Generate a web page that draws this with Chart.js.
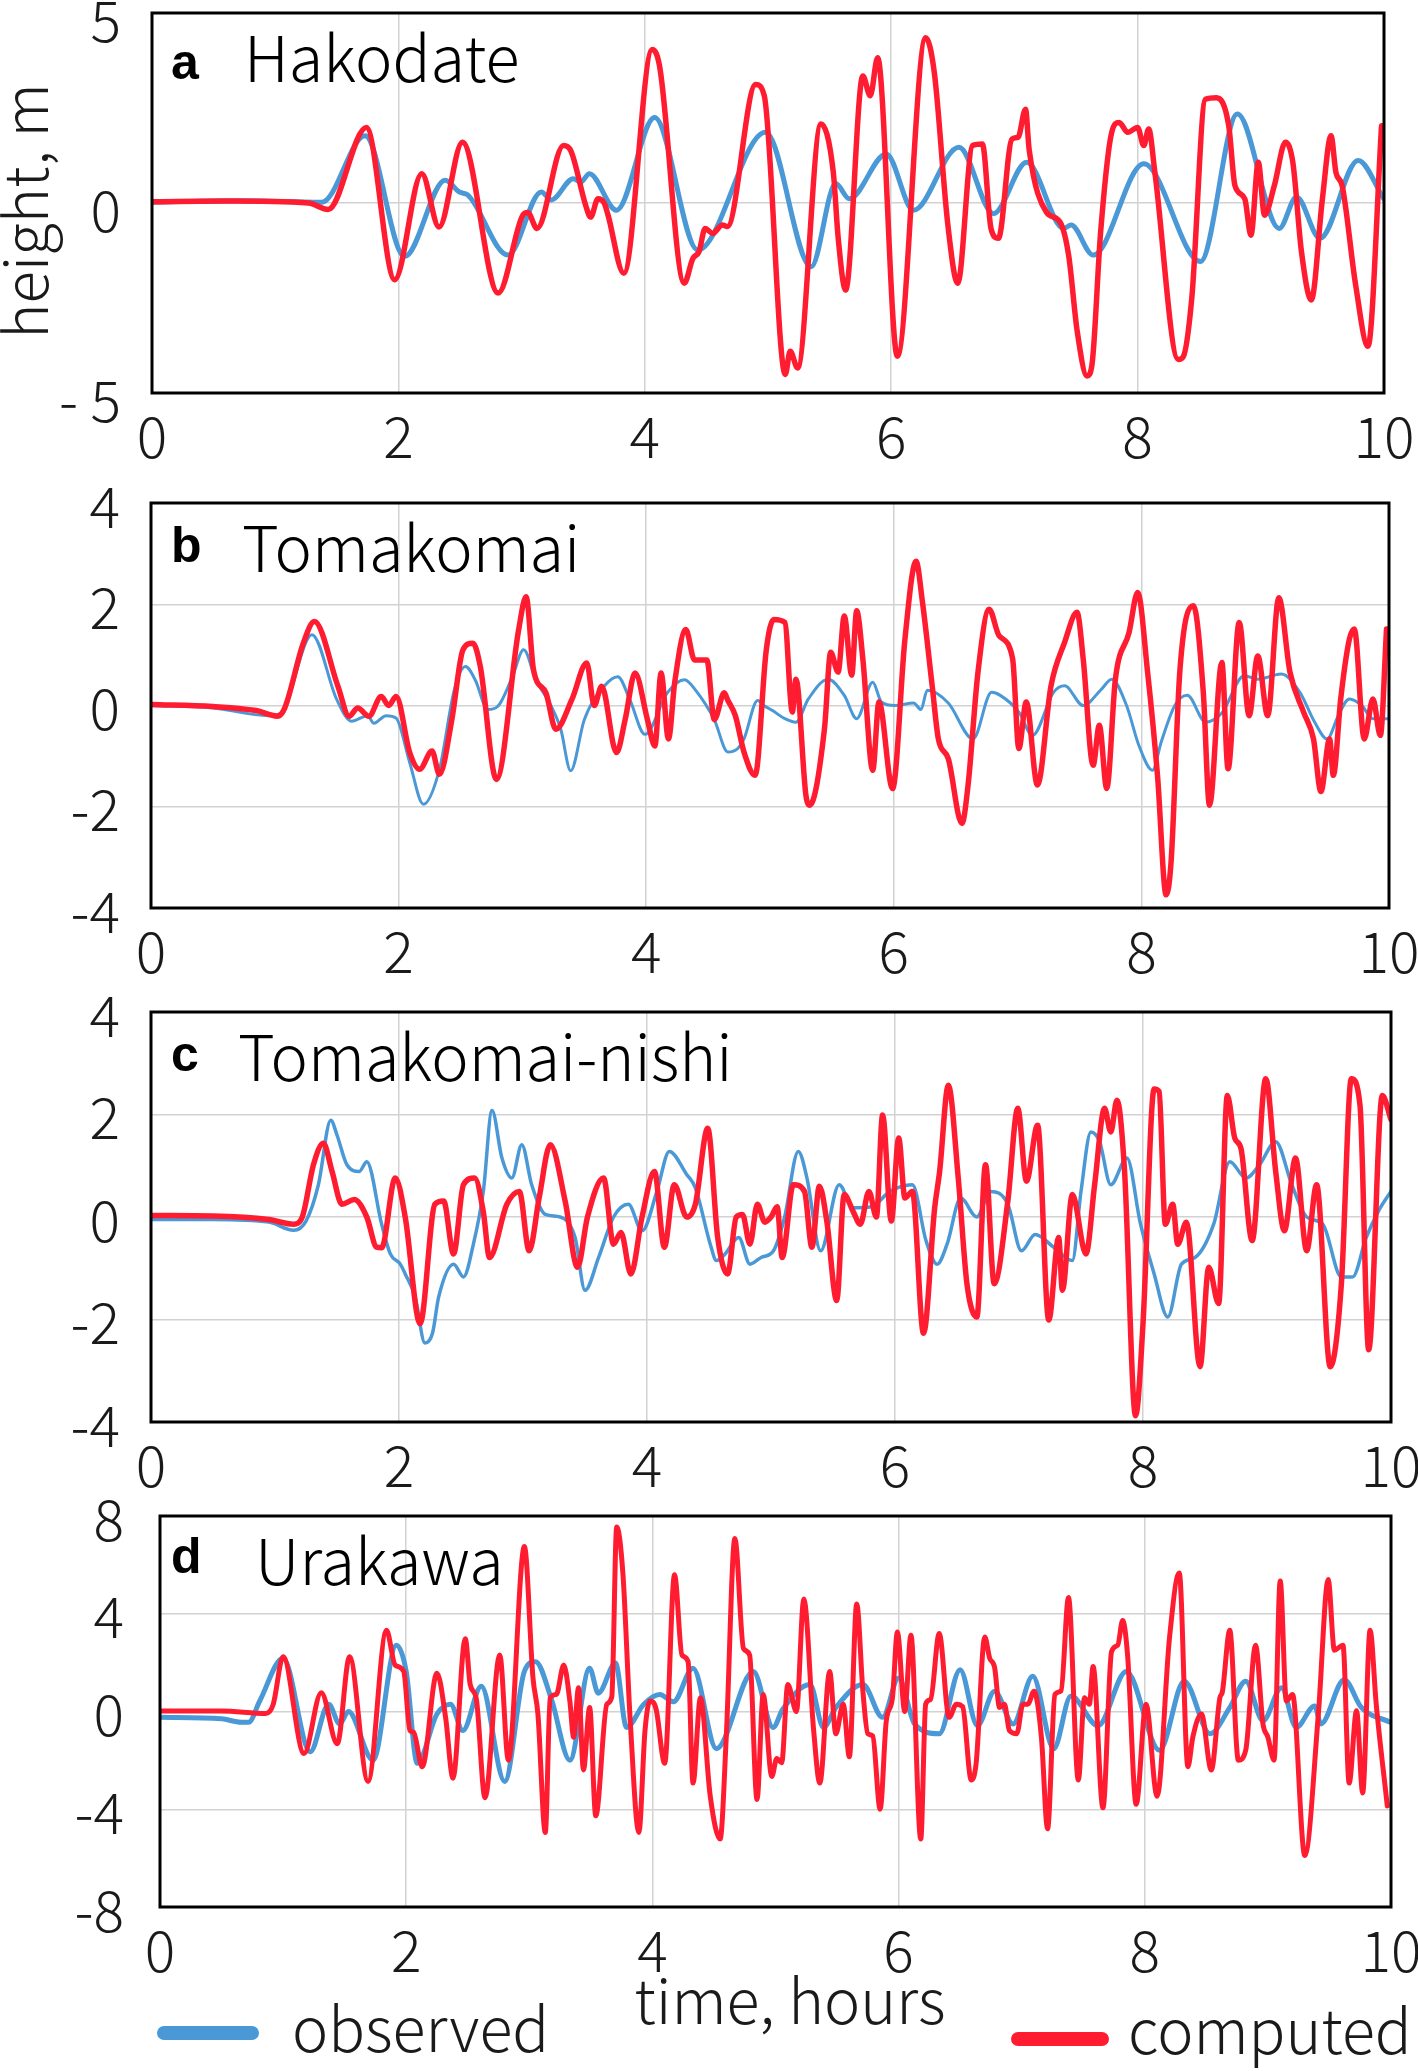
<!DOCTYPE html>
<html>
<head>
<meta charset="utf-8">
<script src="https://cdn.jsdelivr.net/npm/chart.js@4.4.0/dist/chart.umd.min.js"></script>
<style>
  body { margin: 0; background: #fff; width: 1418px; height: 2071px; position: relative; overflow: hidden; }
  canvas { position: absolute; left: 0; }
</style>
</head>
<body>
<canvas id="hakodate"></canvas>
<canvas id="tomakomai"></canvas>
<canvas id="nishi"></canvas>
<canvas id="urakawa"></canvas>
<script>
// time in hours, height in m — [t, h] pairs
const hakodateObs = [[0,0.02],[0.7,0.06],[1.38,0.02],[1.73,1.77],[2.05,-1.41],[2.38,0.6],[2.5,0.28],[2.56,0.22],[2.89,-1.37],[3.16,0.29],[3.24,0.08],[3.42,0.64],[3.48,0.55],[3.55,0.77],[3.77,-0.19],[4.08,2.25],[4.43,-1.24],[4.98,1.86],[5.35,-1.68],[5.55,0.51],[5.66,0.11],[5.96,1.29],[6.18,-0.19],[6.55,1.47],[6.83,-0.28],[7.1,1.07],[7.4,-0.67],[7.46,-0.58],[7.64,-1.37],[8.05,1.03],[8.51,-1.54],[8.81,2.34],[9.15,-0.67],[9.29,0.16],[9.48,-0.93],[9.79,1.12],[10,0.1]];
const hakodateCom = [[0,0.03],[0.6,0.05],[1.27,0],[1.43,-0.17],[1.74,1.99],[1.97,-2.02],[2.19,0.77],[2.33,-0.63],[2.52,1.6],[2.81,-2.37],[3.01,-0.32],[3.05,-0.25],[3.125,-0.67],[3.34,1.51],[3.4,1.37],[3.52,-0.06],[3.56,-0.37],[3.62,0.11],[3.67,0],[3.7,-0.3],[3.83,-1.85],[4.06,4.04],[4.12,3.6],[4.32,-2.11],[4.39,-1.46],[4.44,-1.28],[4.49,-0.67],[4.55,-0.8],[4.63,-0.58],[4.67,-0.62],[4.9,3.12],[4.97,2.82],[5.14,-4.51],[5.18,-3.9],[5.24,-4.34],[5.43,2.08],[5.53,0.81],[5.57,-0.93],[5.63,-2.29],[5.77,3.34],[5.83,2.82],[5.89,3.82],[6.05,-4.03],[6.28,4.35],[6.35,3.43],[6.46,-0.58],[6.54,-2.11],[6.66,1.51],[6.74,1.55],[6.81,-0.67],[6.87,-0.93],[6.98,1.68],[7.03,1.73],[7.09,2.47],[7.12,1.4],[7.26,-0.24],[7.37,-0.5],[7.44,-1.37],[7.51,-3.38],[7.59,-4.55],[7.63,-4.25],[7.7,-0.76],[7.79,1.86],[7.85,2.12],[7.92,1.86],[8,1.99],[8.05,1.51],[8.09,1.95],[8.14,0.81],[8.33,-4.12],[8.37,-4.05],[8.44,-2.5],[8.55,2.73],[8.64,2.77],[8.74,2.03],[8.79,0.46],[8.87,0.11],[8.92,-0.85],[8.98,1.07],[9.03,-0.32],[9.11,0.46],[9.2,1.6],[9.26,1.07],[9.33,-1.28],[9.41,-2.55],[9.5,0.11],[9.57,1.77],[9.61,0.8],[9.66,0.46],[9.77,-2.16],[9.87,-3.77],[9.98,2.03]];

const tomakomaiObs = [[0,0],[0.5,-0.05],[0.95,-0.2],[1.05,-0.15],[1.3,1.4],[1.5,0.12],[1.62,-0.31],[1.75,-0.2],[1.8,-0.35],[1.9,-0.2],[1.98,-0.25],[2.09,-1.13],[2.2,-1.95],[2.33,-1.26],[2.45,0.31],[2.54,0.77],[2.62,0.5],[2.72,-0.08],[2.8,-0.02],[2.92,0.57],[3.01,1.1],[3.11,0.5],[3.23,0],[3.31,-0.47],[3.39,-1.29],[3.5,-0.28],[3.66,0.38],[3.77,0.57],[3.87,0.1],[3.99,-0.57],[4.17,0.25],[4.31,0.51],[4.4,0.3],[4.55,-0.28],[4.66,-0.92],[4.74,-0.85],[4.79,-0.66],[4.9,0.1],[4.95,0],[5.02,-0.1],[5.12,-0.26],[5.21,-0.33],[5.31,0.13],[5.47,0.52],[5.6,0.2],[5.7,-0.26],[5.83,0.46],[5.9,0.07],[6.01,0],[6.16,0.05],[6.22,-0.08],[6.27,0.3],[6.44,0.05],[6.64,-0.66],[6.79,0.26],[6.86,0.2],[7.01,-0.13],[7.12,-0.59],[7.29,0.26],[7.38,0.39],[7.53,0],[7.68,0.33],[7.76,0.52],[7.88,0],[7.98,-0.79],[8.09,-1.28],[8.16,-0.72],[8.27,0],[8.37,0.2],[8.52,-0.33],[8.65,-0.15],[8.83,0.59],[8.94,0.52],[9.13,0.62],[9.28,0.26],[9.4,-0.33],[9.5,-0.66],[9.59,-0.2],[9.68,0.13],[9.78,0],[9.87,-0.26],[10,-0.26]];
const tomakomaiCom = [[0,0.02],[0.5,-0.02],[0.85,-0.1],[1.02,-0.21],[1.08,-0.05],[1.23,1.23],[1.32,1.66],[1.51,0.38],[1.6,-0.21],[1.67,-0.05],[1.76,-0.21],[1.86,0.18],[1.92,0],[1.98,0.18],[2.09,-0.93],[2.17,-1.26],[2.27,-0.9],[2.33,-1.36],[2.43,-0.28],[2.52,1.1],[2.6,1.23],[2.66,0.77],[2.79,-1.46],[2.97,1.5],[3.03,2.15],[3.09,0.7],[3.19,0.25],[3.27,-0.47],[3.4,0.12],[3.52,0.84],[3.58,0],[3.64,0.38],[3.76,-0.93],[3.83,-0.28],[3.91,0.64],[4.01,-0.28],[4.07,-0.8],[4.12,0.64],[4.18,-0.66],[4.23,0.45],[4.32,1.5],[4.39,0.9],[4.49,0.9],[4.55,-0.28],[4.63,0.25],[4.66,0.1],[4.72,-0.2],[4.79,-0.92],[4.88,-1.38],[4.97,1.1],[5.03,1.7],[5.12,1.64],[5.18,-0.13],[5.21,0.52],[5.29,-1.77],[5.32,-1.97],[5.44,-0.46],[5.49,1.05],[5.55,0.66],[5.6,1.77],[5.66,0.6],[5.7,1.87],[5.75,0.92],[5.83,-1.28],[5.88,0.07],[5.99,-1.64],[6.09,1.31],[6.18,2.85],[6.23,2.07],[6.31,0.39],[6.36,-0.66],[6.44,-1.05],[6.55,-2.33],[6.6,-1.57],[6.68,0.66],[6.77,1.9],[6.85,1.38],[6.96,0.92],[7.01,-0.85],[7.07,0.07],[7.16,-1.57],[7.27,0.39],[7.38,1.25],[7.48,1.84],[7.53,0.92],[7.61,-1.18],[7.66,-0.39],[7.72,-1.64],[7.79,0.52],[7.9,1.44],[7.97,2.23],[8.05,0.66],[8.13,-1.38],[8.2,-3.74],[8.24,-3.08],[8.31,0.66],[8.42,1.97],[8.5,0.26],[8.55,-1.97],[8.65,0.85],[8.7,-1.25],[8.79,1.64],[8.87,-0.2],[8.94,0.98],[9.02,-0.2],[9.11,2.13],[9.2,0.66],[9.31,-0.13],[9.39,-0.66],[9.45,-1.7],[9.52,-0.66],[9.55,-1.38],[9.61,0.13],[9.68,1.31],[9.72,1.51],[9.8,-0.66],[9.87,0.13],[9.93,-0.59],[9.98,1.51]];

const nishiObs = [[0,-0.05],[0.5,-0.05],[0.95,-0.1],[1.15,-0.26],[1.25,-0.08],[1.35,0.63],[1.45,1.89],[1.5,1.6],[1.58,1.02],[1.68,0.89],[1.74,1.08],[1.86,-0.14],[1.93,-0.72],[2.01,-0.92],[2.05,-1.11],[2.13,-1.56],[2.21,-2.46],[2.27,-2.27],[2.32,-1.56],[2.44,-0.92],[2.52,-1.17],[2.6,-0.53],[2.68,0.5],[2.75,2.08],[2.83,1.15],[2.91,0.76],[2.99,1.41],[3.07,0.63],[3.18,0.05],[3.3,0],[3.42,-0.4],[3.5,-1.43],[3.61,-0.79],[3.73,0],[3.85,0.25],[3.96,-0.27],[4.08,0.5],[4.18,1.28],[4.32,0.83],[4.39,0.57],[4.51,-0.53],[4.56,-0.85],[4.63,-0.72],[4.74,-0.4],[4.83,-0.92],[4.92,-0.79],[5.02,-0.66],[5.11,0],[5.22,1.28],[5.29,0.76],[5.4,-0.66],[5.55,0.63],[5.66,0.18],[5.81,0.2],[5.96,0.5],[6.14,0.63],[6.25,-0.46],[6.34,-0.92],[6.42,-0.53],[6.53,0.37],[6.66,0],[6.77,0.5],[6.91,0.25],[7.02,-0.66],[7.13,-0.34],[7.28,-0.59],[7.43,-0.85],[7.5,0.5],[7.58,1.66],[7.65,1.47],[7.74,0.63],[7.87,1.15],[7.98,-0.14],[8.09,-1.11],[8.2,-1.95],[8.31,-0.92],[8.42,-0.79],[8.57,-0.14],[8.7,1.08],[8.83,0.76],[8.94,1.02],[9.07,1.47],[9.2,0.63],[9.32,0],[9.45,-0.14],[9.6,-1.17],[9.69,-1.17],[9.8,-0.4],[9.9,0.12],[10,0.5]];
const nishiCom = [[0,0.03],[0.5,0.02],[0.95,-0.05],[1.15,-0.14],[1.22,0],[1.31,1.02],[1.39,1.44],[1.46,0.89],[1.54,0.25],[1.64,0.34],[1.74,0],[1.82,-0.59],[1.86,-0.6],[1.97,0.76],[2.05,0],[2.17,-2.08],[2.29,0.25],[2.36,0.31],[2.44,-0.72],[2.52,0.63],[2.61,0.76],[2.68,0.1],[2.73,-0.79],[2.87,0.25],[2.97,0.5],[3.05,-0.66],[3.13,0.37],[3.22,1.41],[3.34,0.31],[3.44,-0.98],[3.52,0],[3.65,0.76],[3.73,-0.53],[3.79,-0.3],[3.87,-1.11],[3.96,0],[4.06,0.89],[4.14,-0.59],[4.22,0.63],[4.32,0],[4.39,0.25],[4.49,1.73],[4.57,-0.4],[4.65,-1.11],[4.72,0],[4.77,0.05],[4.83,-0.53],[4.89,0.25],[4.95,-0.1],[5,0],[5.05,0.2],[5.09,-0.79],[5.18,0.63],[5.27,0.5],[5.33,-0.59],[5.39,0.6],[5.45,-0.08],[5.53,-1.63],[5.59,0.44],[5.66,0.12],[5.72,-0.14],[5.79,0.5],[5.85,0],[5.9,1.99],[5.97,-0.08],[6.03,1.54],[6.08,0.37],[6.14,0.5],[6.23,-2.27],[6.32,0.18],[6.36,0.89],[6.43,2.57],[6.51,0.76],[6.58,-1.3],[6.66,-1.95],[6.73,1.02],[6.8,-1.3],[6.91,0.31],[6.99,2.12],[7.06,0.7],[7.15,1.79],[7.24,-2.01],[7.32,-0.4],[7.35,-1.43],[7.43,0.44],[7.54,-0.72],[7.61,0.63],[7.69,2.12],[7.74,1.66],[7.79,2.28],[7.85,0.95],[7.94,-3.88],[8,-2.08],[8.09,2.5],[8.13,2.45],[8.18,-0.14],[8.24,0.25],[8.28,-0.53],[8.35,-0.1],[8.46,-2.92],[8.53,-0.98],[8.61,-1.69],[8.68,2.37],[8.74,1.54],[8.79,1.34],[8.88,-0.46],[8.99,2.7],[9.07,0.89],[9.14,-0.27],[9.23,1.15],[9.32,-0.66],[9.4,0.63],[9.51,-2.92],[9.6,-1.3],[9.68,2.7],[9.75,2.18],[9.82,-2.59],[9.93,2.37],[10,1.9]];

const urakawaObs = [[0,-0.24],[0.5,-0.3],[0.66,-0.44],[0.72,-0.44],[0.81,0.43],[1,2.18],[1.22,-1.65],[1.37,0.3],[1.46,-0.51],[1.53,0],[1.73,-1.99],[1.92,2.71],[2,1.64],[2.09,-2.12],[2.25,-0.1],[2.36,0.3],[2.46,-0.78],[2.61,1.03],[2.8,-2.86],[2.96,1.64],[3.05,2.04],[3.18,0.5],[3.33,-1.99],[3.49,1.77],[3.56,0.75],[3.7,1.98],[3.79,-0.65],[3.93,0.3],[4.06,0.7],[4.17,0.4],[4.33,1.77],[4.52,-1.52],[4.82,1.64],[4.98,-0.65],[5.06,0.1],[5.28,1.1],[5.39,-0.65],[5.49,0.16],[5.71,1.1],[5.87,-0.24],[6,1.37],[6.13,-0.51],[6.33,-0.91],[6.5,1.71],[6.64,-0.58],[6.78,0.83],[6.93,-0.51],[7.09,1.44],[7.26,-1.52],[7.4,0.63],[7.62,-0.58],[7.85,1.64],[8.12,-1.59],[8.32,1.24],[8.53,-0.91],[8.69,0.16],[8.82,1.24],[8.96,-0.38],[9.11,0.97],[9.23,-0.65],[9.38,0.23],[9.43,-0.51],[9.62,1.3],[9.76,0.16],[10,-0.45]];
const urakawaCom = [[0,0.02],[0.5,0.02],[0.86,-0.08],[0.92,0.3],[1,2.24],[1.17,-1.72],[1.31,0.77],[1.44,-1.32],[1.54,2.24],[1.69,-2.86],[1.84,3.32],[1.91,1.9],[1.98,1.64],[2.03,-0.78],[2.06,-0.85],[2.13,-2.26],[2.25,1.57],[2.32,-0.24],[2.38,-2.73],[2.48,2.98],[2.52,1.1],[2.57,0.5],[2.64,-3.53],[2.76,2.31],[2.83,-1.99],[2.96,6.75],[3.03,1.37],[3.07,-0.1],[3.13,-4.95],[3.17,0.56],[3.22,0.7],[3.28,1.9],[3.33,0.4],[3.36,-1.05],[3.4,0.97],[3.44,-2.39],[3.49,0.16],[3.54,-4.27],[3.63,0.3],[3.67,0.6],[3.71,7.55],[3.76,5.67],[3.82,-0.38],[3.89,-4.95],[3.94,-0.78],[3.98,0.43],[4.03,0.1],[4.1,-2.12],[4.18,5.6],[4.24,2.31],[4.29,2.04],[4.33,-2.93],[4.39,0.56],[4.47,-3.47],[4.55,-5.22],[4.6,-1.05],[4.67,7.08],[4.74,2.58],[4.79,2.31],[4.85,-3.6],[4.9,0.7],[4.97,-2.66],[5.01,-1.92],[5.05,-2.1],[5.1,1.1],[5.17,0],[5.23,4.6],[5.31,-0.78],[5.36,-2.93],[5.44,1.64],[5.49,-0.91],[5.55,0.3],[5.6,-1.85],[5.66,4.4],[5.71,0.83],[5.75,-0.91],[5.79,-1],[5.85,-4],[5.9,-0.38],[5.95,0.56],[5.99,3.25],[6.05,0],[6.1,3.12],[6.18,-5.22],[6.22,0.3],[6.26,0.5],[6.33,3.19],[6.41,-0.24],[6.47,0.3],[6.52,0.2],[6.59,-2.8],[6.63,-2.12],[6.7,3.05],[6.74,2.18],[6.78,1.8],[6.82,0.16],[6.86,0.3],[6.9,-0.78],[6.96,-0.91],[7.01,0.3],[7.05,0.3],[7.1,0.83],[7.16,-1.05],[7.21,-4.8],[7.27,0.7],[7.32,0.85],[7.38,4.66],[7.46,-2.8],[7.51,0.56],[7.55,0.3],[7.58,1.84],[7.66,-3.94],[7.73,2.45],[7.78,2.71],[7.82,3.72],[7.86,2.31],[7.93,-3.8],[8.01,0.3],[8.1,-3.47],[8.2,2.98],[8.28,5.67],[8.35,-2.26],[8.39,-1.05],[8.46,-0.1],[8.54,-2.39],[8.61,0.56],[8.63,0.8],[8.69,3.32],[8.76,-1.99],[8.82,-1.58],[8.9,2.71],[8.96,-0.51],[9,-1.05],[9.05,-1.99],[9.1,5.34],[9.15,0.43],[9.2,0.7],[9.3,-5.89],[9.41,-0.1],[9.49,5.4],[9.54,2.51],[9.61,2.71],[9.66,-2.93],[9.72,0.03],[9.77,-3.33],[9.83,3.32],[9.88,0.3],[9.97,-3.87]];

const hourTicks = [0, 2, 4, 6, 8, 10];
const stations = ["Hakodate", "Tomakomai", "Tomakomai-nishi", "Urakawa"];
const letters = ["a", "b", "c", "d"];
const seriesNames = ["observed", "computed"];

const BLUE = "#4a98d6";
const RED = "#ff1c30";
const FONT = '"Noto Sans CJK JP", "Noto Sans", sans-serif';
const INK = "#1a1a1a";

const toXY = (pairs) => pairs.map(p => ({ x: p[0], y: p[1] }));

// black frame + panel label inside the plot
const framePlugin = {
  id: "frame",
  afterDraw(chart, args, o) {
    const { ctx, chartArea: a } = chart;
    ctx.save();
    ctx.strokeStyle = "#000";
    ctx.lineWidth = 3;
    ctx.strokeRect(a.left, a.top, a.right - a.left, a.bottom - a.top);
    ctx.fillStyle = "#000";
    ctx.textBaseline = "alphabetic";
    ctx.font = 'bold 50px "Liberation Sans", Arial, sans-serif';
    ctx.fillText(o.letter, 171, a.top + o.letterY);
    ctx.font = "300 63px " + FONT;
    ctx.fillText(o.name, o.nameX, a.top + 69);
    if (o.extra) o.extra(ctx, chart);
    ctx.restore();
  }
};

function panel(id, p) {
  const [bl, bt, br, bb] = p.box;
  const top = bt - 60;
  const cv = document.getElementById(id);
  cv.style.top = top + "px";
  cv.width = 1418;
  cv.height = p.bottom - top;
  const xh = p.bottom - bb;

  new Chart(cv, {
    type: "line",
    data: {
      datasets: [
        { label: seriesNames[1], data: toXY(p.com), borderColor: RED, borderWidth: p.wc },
        { label: seriesNames[0], data: toXY(p.obs), borderColor: BLUE, borderWidth: p.wo }
      ]
    },
    options: {
      responsive: false,
      animation: false,
      devicePixelRatio: 1,
      layout: { padding: { top: 60, left: 0, right: 1418 - br, bottom: 0 } },
      elements: {
        point: { radius: 0 },
        line: { cubicInterpolationMode: "monotone", borderCapStyle: "round", borderJoinStyle: "round" }
      },
      plugins: {
        legend: { display: false },
        tooltip: { enabled: false },
        frame: { letter: p.letter, letterY: p.letterY, name: p.name, nameX: p.nameX, extra: p.extra }
      },
      scales: {
        x: {
          type: "linear",
          min: 0, max: 10,
          afterBuildTicks: (s) => { s.ticks = hourTicks.map(v => ({ value: v })); },
          afterFit: (s) => { s.height = xh; s.paddingLeft = 0; s.paddingRight = 0; },
          border: { display: false },
          grid: { color: "#d2d2d2", lineWidth: 1.5, drawTicks: false },
          ticks: { font: { family: FONT, size: 57, weight: 300 }, color: INK, padding: 9, maxRotation: 0, autoSkip: false }
        },
        y: {
          min: p.yMin, max: p.yMax,
          afterBuildTicks: (s) => { s.ticks = p.yTicks.map(v => ({ value: v })); },
          afterFit: (s) => { s.width = bl; s.paddingTop = 0; s.paddingBottom = 0; },
          border: { display: false },
          grid: { color: "#d2d2d2", lineWidth: 1.5, drawTicks: false },
          ticks: {
            font: { family: FONT, size: 57, weight: 300 }, color: INK, padding: p.yPad,
            labelOffset: p.yShift || 0,
            callback: p.yFmt || ((v) => String(v))
          }
        }
      }
    },
    plugins: [framePlugin]
  });
}

panel("hakodate", {
  box: [152, 13, 1384, 393], bottom: 490,
  yMin: -5, yMax: 5, yTicks: [-5, 0, 5], yPad: 31, yShift: 7,
  yFmt: (v) => (v < 0 ? "- " + Math.abs(v) : String(v)),
  obs: hakodateObs, com: hakodateCom, wo: 5, wc: 5.5,
  letter: letters[0], letterY: 66, name: stations[0], nameX: 244,
  extra: (ctx, chart) => {
    const top = 13 - 60;
    ctx.save();
    ctx.translate(48, 211 - top);
    ctx.rotate(-Math.PI / 2);
    ctx.textAlign = "center";
    ctx.font = "300 60px " + FONT;
    ctx.fillStyle = INK;
    ctx.fillText("height, m", 0, 0);
    ctx.restore();
  }
});

panel("tomakomai", {
  box: [151, 503, 1389, 908], bottom: 1000,
  yMin: -4, yMax: 4, yTicks: [-4, -2, 0, 2, 4], yPad: 31, yShift: 3,
  obs: tomakomaiObs, com: tomakomaiCom, wo: 3, wc: 5.5,
  letter: letters[1], letterY: 59, name: stations[1], nameX: 242
});

panel("nishi", {
  box: [151, 1012, 1391, 1422], bottom: 1500,
  yMin: -4, yMax: 4, yTicks: [-4, -2, 0, 2, 4], yPad: 31, yShift: 3,
  obs: nishiObs, com: nishiCom, wo: 3.5, wc: 5.5,
  letter: letters[2], letterY: 59, name: stations[2], nameX: 238
});

panel("urakawa", {
  box: [160, 1516, 1391, 1907], bottom: 2071,
  yMin: -8, yMax: 8, yTicks: [-8, -4, 0, 4, 8], yPad: 36, yShift: 3,
  obs: urakawaObs, com: urakawaCom, wo: 5, wc: 5,
  letter: letters[3], letterY: 57, name: stations[3], nameX: 255,
  extra: (ctx, chart) => {
    const top = 1516 - 60;
    ctx.fillStyle = INK;
    ctx.font = "300 61px " + FONT;
    ctx.textAlign = "center";
    ctx.fillText("time, hours", 790, 2024 - top);
    ctx.textAlign = "left";
    ctx.fillText(seriesNames[0], 292, 2052 - top);
    ctx.fillText(seriesNames[1], 1128, 2054 - top);
    ctx.lineCap = "round";
    ctx.lineWidth = 14;
    ctx.strokeStyle = BLUE;
    ctx.beginPath(); ctx.moveTo(164, 2033 - top); ctx.lineTo(252, 2033 - top); ctx.stroke();
    ctx.strokeStyle = RED;
    ctx.beginPath(); ctx.moveTo(1018, 2039 - top); ctx.lineTo(1102, 2039 - top); ctx.stroke();
  }
});
</script>
</body>
</html>
